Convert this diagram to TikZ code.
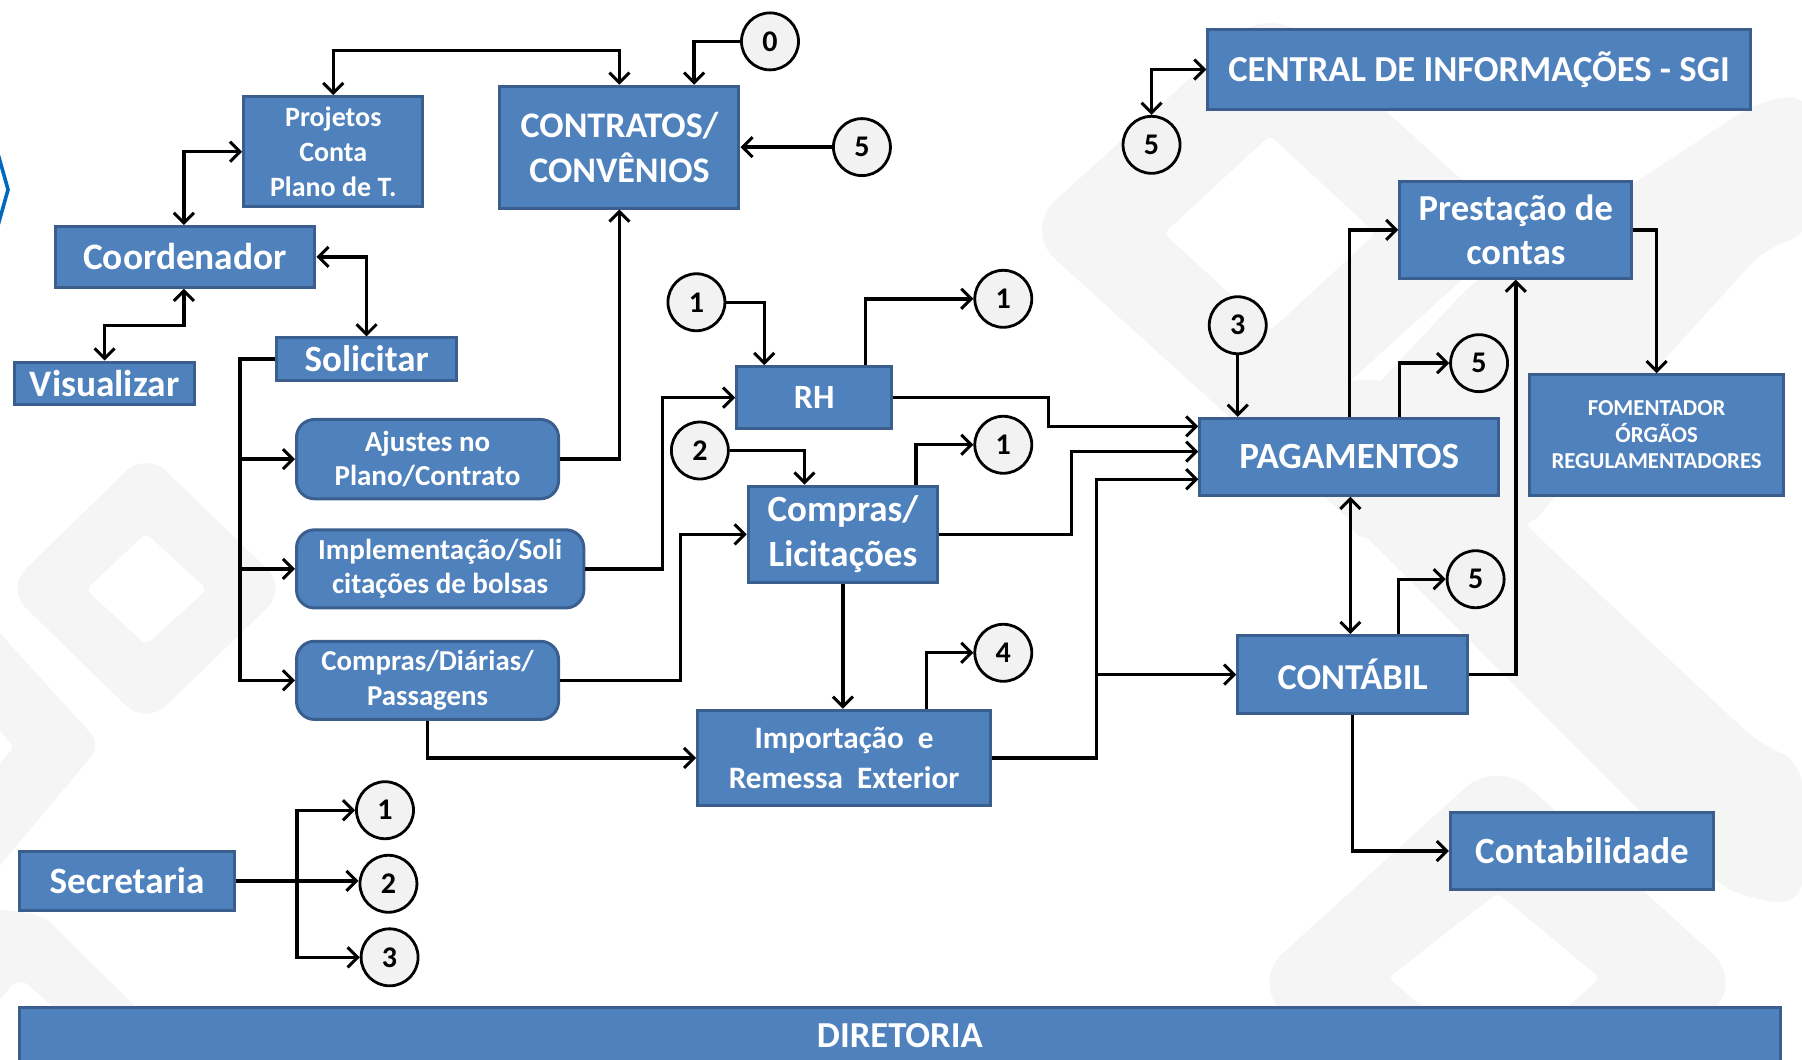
\documentclass[tikz,border=0pt]{standalone}
\usepackage{fontspec}
\setmainfont{Carlito}
\usetikzlibrary{arrows.meta}
\definecolor{boxblue}{HTML}{4F81BD}
\definecolor{boxedge}{HTML}{3A5F8E}
\definecolor{wm}{HTML}{F5F5F5}
\definecolor{numfill}{HTML}{F2F2F2}
\newcommand\fs[2]{\fontsize{#1}{#2}\selectfont}
\newcommand\bx[7][box]{\node[#1,minimum width={(#5-#3)*0.5746pt},minimum height={(#6-#4)*0.5746pt}] (#2) at ({(#3+#5)/2},{(#4+#6)/2}) {#7};}
\newcommand\cc[4]{\node[num] (#1) at (#2,#3) {#4};}
\def\u{0.5746pt}
\tikzset{
  box/.style={rectangle,fill=boxblue,draw=boxedge,line width=1.5pt,text=white,font=\bfseries,align=center,inner sep=0pt},
  rbox/.style={box,rounded corners=9pt},
  num/.style={circle,draw=black,fill=numfill,line width=1.4pt,minimum size=28.5pt,inner sep=0pt,font=\bfseries\fs{15}{18},text=black},
  arr/.style={draw=black,line width=1.7pt,-{Straight Barb[length=5pt,width=10pt,line width=1.5pt]},line join=miter},
  arrb/.style={draw=black,line width=1.7pt,{Straight Barb[length=5pt,width=10pt,line width=1.5pt]}-{Straight Barb[length=5pt,width=10pt,line width=1.5pt]}},
  bg/.style={fill=wm,draw=none}
}
\begin{document}
\begin{tikzpicture}[x=0.5746pt,y=-0.5746pt]
\useasboundingbox (0,0) rectangle (1568,921.5);
% watermark
\fill[bg,rounded corners=22pt] (890,200) -- (1105,5) -- (1320,200) -- (1105,395) -- cycle;
\fill[bg,rounded corners=12pt] (1050,335) -- (1215,330) -- (1332,461) -- (1533,649) -- (1568,662) -- (1568,787) -- (1520,782) -- (1492,767) -- (1423,702) -- (1183,461) -- cycle;
\fill[bg,rounded corners=12pt] (1530,88) -- (1575,82) -- (1575,205) -- (1538,214) -- (1438,324) -- (1330,461) -- (1173,470) -- (1173,362) -- (1283,244) -- (1418,162) -- cycle;
\fill[white,rounded corners=3pt] (1013,203) -- (1105,118) -- (1197,203) -- (1105,288) -- cycle;
\fill[bg,rounded corners=22pt] (1088,855) -- (1303,660) -- (1518,855) -- (1303,1050) -- cycle;
\fill[white,rounded corners=3pt] (1208,851) -- (1303,777) -- (1392,851) -- (1303,930) -- cycle;
\fill[bg,rounded corners=14pt] (5,512) -- (127,393) -- (250,512) -- (127,631) -- cycle;
\fill[white,rounded corners=3pt] (75,513) -- (127,464) -- (180,513) -- (127,561) -- cycle;
\fill[bg,rounded corners=8pt] (-10,540) -- (88,648) -- (-10,765) -- cycle;
\fill[white,rounded corners=2pt] (-10,625) -- (12,650) -- (-10,675) -- cycle;
\fill[bg,rounded corners=6pt] (-5,790) -- (38,797) -- (122,880) -- (50,880) -- (17,850) -- (-5,875) -- cycle;
\draw[color=blue!45!cyan!75!black,line width=1.8pt] (-2,133) -- (7,165) -- (-2,197);
% boxes
\bx[box,font=\bfseries\fs{14}{17.3}]{proj}{212}{84}{368}{180}{Projetos\\Conta\\Plano de T.}
\bx[box,font=\bfseries\fs{18}{22.4}]{con}{435}{75}{643}{181}{CONTRATOS/\\CONVÊNIOS}
\bx[box,font=\bfseries\fs{18.7}{20}]{coord}{48}{197}{274}{250}{Coordenador}
\bx[box,font=\bfseries\fs{18.7}{20}]{vis}{13}{315}{169}{352}{Visualizar}
\bx[box,font=\bfseries\fs{18.5}{20}]{sol}{241}{294}{397}{331}{Solicitar}
\bx[rbox,font=\bfseries\fs{14.5}{17.3}]{aju}{258}{365}{486}{434}{Ajustes no\\Plano/Contrato}
\bx[rbox,font=\bfseries\fs{14.5}{17.3}]{imp}{258}{461}{508}{529}{Implementação/Soli\\citações de bolsas}
\bx[rbox,font=\bfseries\fs{14.4}{17.3}]{dia}{258}{558}{486}{626}{Compras/Diárias/\\Passagens}
\bx[box,font=\bfseries\fs{17}{20}]{rh}{641}{319}{776}{373}{RH}
\bx[box,font=\bfseries\fs{18.5}{22.4}]{lic}{651}{423}{816}{507}{Compras/\\Licitações}
\bx[box,font=\bfseries\fs{15.6}{20}]{rem}{607}{618}{862}{701}{Importação\ \ e\\Remessa\ \ Exterior}
\bx[box,font=\bfseries\fs{18.5}{20}]{pag}{1044}{364}{1304}{431}{PAGAMENTOS}
\bx[box,font=\bfseries\fs{18.3}{22.4}]{pre}{1218}{158}{1420}{242}{Prestação de\\contas}
\bx[box,font=\bfseries\fs{11.4}{13.3}]{fom}{1331}{326}{1552}{431}{FOMENTADOR\\ÓRGÃOS\\REGULAMENTADORES}
\bx[box,font=\bfseries\fs{18.2}{20}]{ctb}{1077}{553}{1277}{621}{CONTÁBIL}
\bx[box,font=\bfseries\fs{18.5}{20}]{cont}{1262}{707}{1491}{774}{Contabilidade}
\bx[box,font=\bfseries\fs{18.3}{20}]{sgi}{1051}{26}{1523}{95}{CENTRAL DE INFORMAÇÕES - SGI}
\bx[box,font=\bfseries\fs{18.6}{20}]{sec}{17}{741}{204}{792}{Secretaria}
\bx[box,font=\bfseries\fs{18.3}{20}]{dir}{17}{877}{1549}{926}{DIRETORIA}
% numbered circles
\cc{nz}{670}{36}{0}
\cc{nf}{750}{128}{5}
\cc{ng}{1002}{126}{5}
\cc{na}{606}{263}{1}
\cc{nb}{873}{260}{1}
\cc{nd}{609}{392}{2}
\cc{nc}{873}{387}{1}
\cc{nt}{1077}{283}{3}
\cc{nh}{1287}{316}{5}
\cc{ni}{1284}{504}{5}
\cc{nq}{873}{568}{4}
\cc{sa}{335}{705}{1}
\cc{sb}{338}{769}{2}
\cc{sc}{339}{833}{3}
% connectors
\draw[arrb] (proj.north) |- (415,44) -| (con.north);
\draw[arr] (nz.west) -| ([xshift=65*\u]con.north);
\draw[arr] (nf.west) -- (con.east |- nf.west);
\draw[arrb] ([xshift=-1*\u]coord.north) |- (proj.west);
\draw[arrb] (coord.east) -| (sol.north);
\draw[arrb] ([xshift=-1*\u]coord.south) |- (125,283) -| (vis.north);
\draw[arr] (sol.west) -- ++(-31,0) coordinate (tk) |- (dia.west);
\draw[arr] (tk |- aju.west) -- (aju.west);
\draw[arr] (tk |- imp.west) -- (imp.west);
\draw[arr] (aju.east) -| (con.south);
\draw[arr] (imp.east) -- ++(67,0) |- (rh.west);
\draw[arr] (dia.east) -- ++(105,0) |- (lic.west);
\draw[arr] (dia.south) |- (rem.west);
\draw[arr] (na.east) -| ([xshift=-43.5*\u]rh.north);
\draw[arr] ([xshift=44.5*\u]rh.north) |- (nb.west);
\draw[arr] (rh.east) -- ++(135,0) |- ([yshift=26.5*\u]pag.west);
\draw[arr] (nd.east) -| ([xshift=-33.5*\u]lic.north);
\draw[arr] ([xshift=63.5*\u]lic.north) |- (nc.west);
\draw[arr] (lic.east) -- ++(115,0) |- ([yshift=4.5*\u]pag.west);
\draw[arr] (lic.south) -- (rem.north -| lic.south);
\draw[arr] ([xshift=71.5*\u]rem.north) |- (nq.west);
\draw[arr] (rem.east) -- ++(91,0) coordinate (tr) |- ([yshift=-19.5*\u]pag.west);
\draw[arr] (tr |- ctb.west) -- (ctb.west);
\draw[arr] (nt.south) -- (nt.south |- pag.north);
\draw[arr] (pag.north) |- (pre.west);
\draw[arr] ([xshift=44*\u]pag.north) |- (nh.west);
\draw[arrb] ([xshift=1*\u]pag.south) -- ([xshift=1*\u]pag.south |- ctb.north);
\draw[arr] ([xshift=40*\u]ctb.north) |- (ni.west);
\draw[arr] (ctb.east) -| (pre.south);
\draw[arr] (pre.east) -| (fom.north);
\draw[arr] (ctb.south) |- (cont.west);
\draw[arr] (sec.east) -- ++(53,0) coordinate (ts) |- (sa.west);
\draw[arr] (ts) -- (sb.west |- ts);
\draw[arr] (ts) |- (sc.west);
\draw[arrb] (sgi.west) -| (ng.north);
\end{tikzpicture}
\end{document}
